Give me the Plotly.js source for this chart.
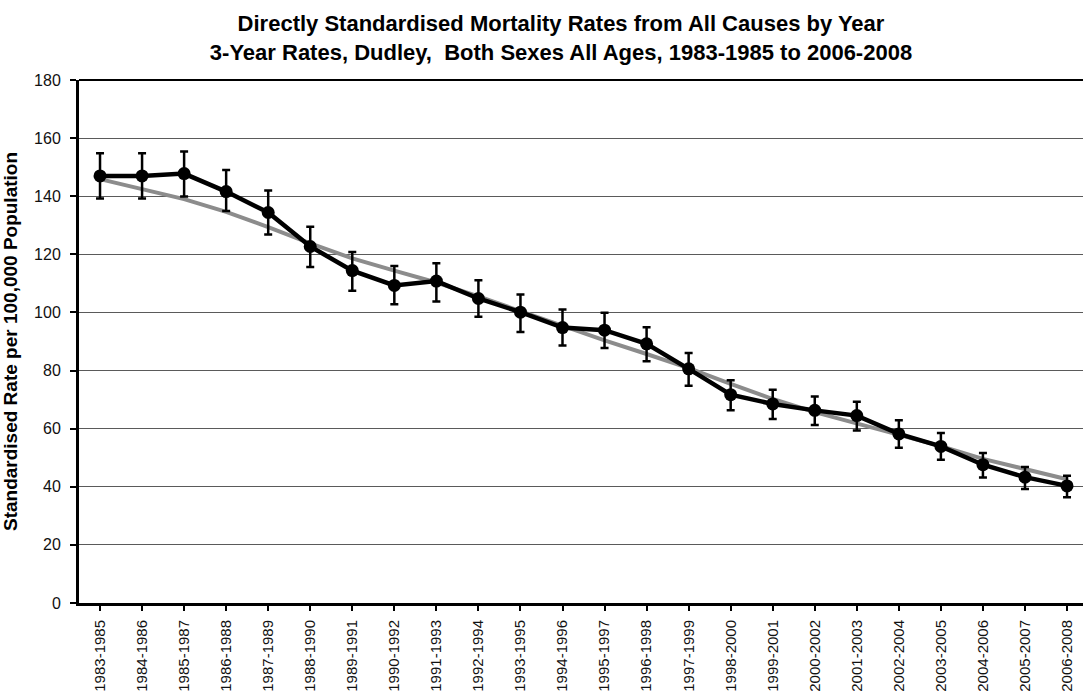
<!DOCTYPE html>
<html>
<head>
<meta charset="utf-8">
<script src="https://cdn.plot.ly/plotly-3.0.1.min.js"></script>
<style>html,body{margin:0;padding:0;background:#fff;}#chart{width:1083px;height:693px;}</style>
</head>
<body>
<div id="chart"></div>
<script>
const periods = ["1983-1985","1984-1986","1985-1987","1986-1988","1987-1989","1988-1990","1989-1991","1990-1992","1991-1993","1992-1994","1993-1995","1994-1996","1995-1997","1996-1998","1997-1999","1998-2000","1999-2001","2000-2002","2001-2003","2002-2004","2003-2005","2004-2006","2005-2007","2006-2008"];
const rate = [147.0,147.0,147.8,141.6,134.4,122.7,114.4,109.3,110.8,104.8,100.1,94.8,93.9,89.2,80.6,71.7,68.5,66.3,64.5,58.2,53.9,47.6,43.3,40.3];
const ciUpper = [154.8,154.8,155.4,149.0,142.0,129.5,120.8,116.0,116.9,111.1,106.2,101.0,99.9,94.9,86.0,76.7,73.4,71.1,69.3,62.9,58.5,51.6,46.8,43.8];
const ciLower = [139.2,139.2,139.9,134.9,126.8,115.6,107.5,102.8,103.8,98.5,93.3,88.6,87.8,83.2,74.8,66.3,63.3,61.3,59.4,53.4,49.3,43.2,39.2,36.4];
const trend = [145.9,142.6,139.0,134.6,129.4,123.8,118.6,114.4,110.3,105.5,100.4,95.2,90.4,85.7,80.8,75.4,70.2,65.7,61.8,58.0,54.0,49.6,46.0,42.6];
const yTicks = [0,20,40,60,80,100,120,140,160,180];

const errPlus = rate.map((v,i)=>ciUpper[i]-v);
const errMinus = rate.map((v,i)=>v-ciLower[i]);
const idx = periods.map((_,i)=>i);

const traces = [
  {x: idx, y: trend, type:'scatter', mode:'lines', line:{color:'#8c8c8c', width:4}, hoverinfo:'skip', showlegend:false},
  {x: idx, y: rate, type:'scatter', mode:'lines+markers',
   line:{color:'#000', width:4.5}, marker:{color:'#000', size:13, symbol:'circle'},
   error_y:{type:'data', symmetric:false, array:errPlus, arrayminus:errMinus, color:'#000', thickness:2.5, width:4},
   showlegend:false}
];

const layout = {
  width:1083, height:693,
  margin:{l:79, r:0, t:80, b:90},
  paper_bgcolor:'#fff', plot_bgcolor:'#fff',
  font:{family:'"Liberation Sans", Arial, sans-serif', color:'#000'},
  title:{text:'Directly Standardised Mortality Rates from All Causes by Year<br>3-Year Rates, Dudley,  Both Sexes All Ages, 1983-1985 to 2006-2008',
    font:{size:22, color:'#000', family:'"Liberation Sans", Arial, sans-serif', weight:'bold'},
    x:0.518, xanchor:'center', xref:'container', y:0.955, yanchor:'top', yref:'container'},
  xaxis:{
    range:[-0.5, 23.38], tickmode:'array', tickvals:idx, ticktext:periods, tickangle:-90,
    tickson:'boundaries', ticks:'outside', ticklen:5, tickwidth:2, tickcolor:'#000',
    showline:true, linecolor:'#000', linewidth:3, showgrid:false, zeroline:false,
    tickfont:{size:15, color:'#111'}, ticklabelstandoff:3, fixedrange:true
  },
  yaxis:{
    range:[0,180], tickmode:'array', tickvals:yTicks, ticks:'outside', ticklen:6, tickwidth:2, tickcolor:'#000',
    showline:true, linecolor:'#000', linewidth:3, showgrid:true, gridcolor:'#5a5a5a', gridwidth:1, zeroline:false,
    tickfont:{size:16, color:'#111'}, ticklabelstandoff:6,
    title:{text:'Standardised Rate per 100,000 Population', font:{size:19, color:'#000', weight:'bold'}, standoff:12},
    fixedrange:true
  },
  shapes:[{type:'line', xref:'paper', yref:'paper', x0:0, x1:1, y0:1, y1:1, line:{color:'#000', width:2}}]
};

Plotly.newPlot('chart', traces, layout, {displayModeBar:false, staticPlot:true});
</script>
</body>
</html>
